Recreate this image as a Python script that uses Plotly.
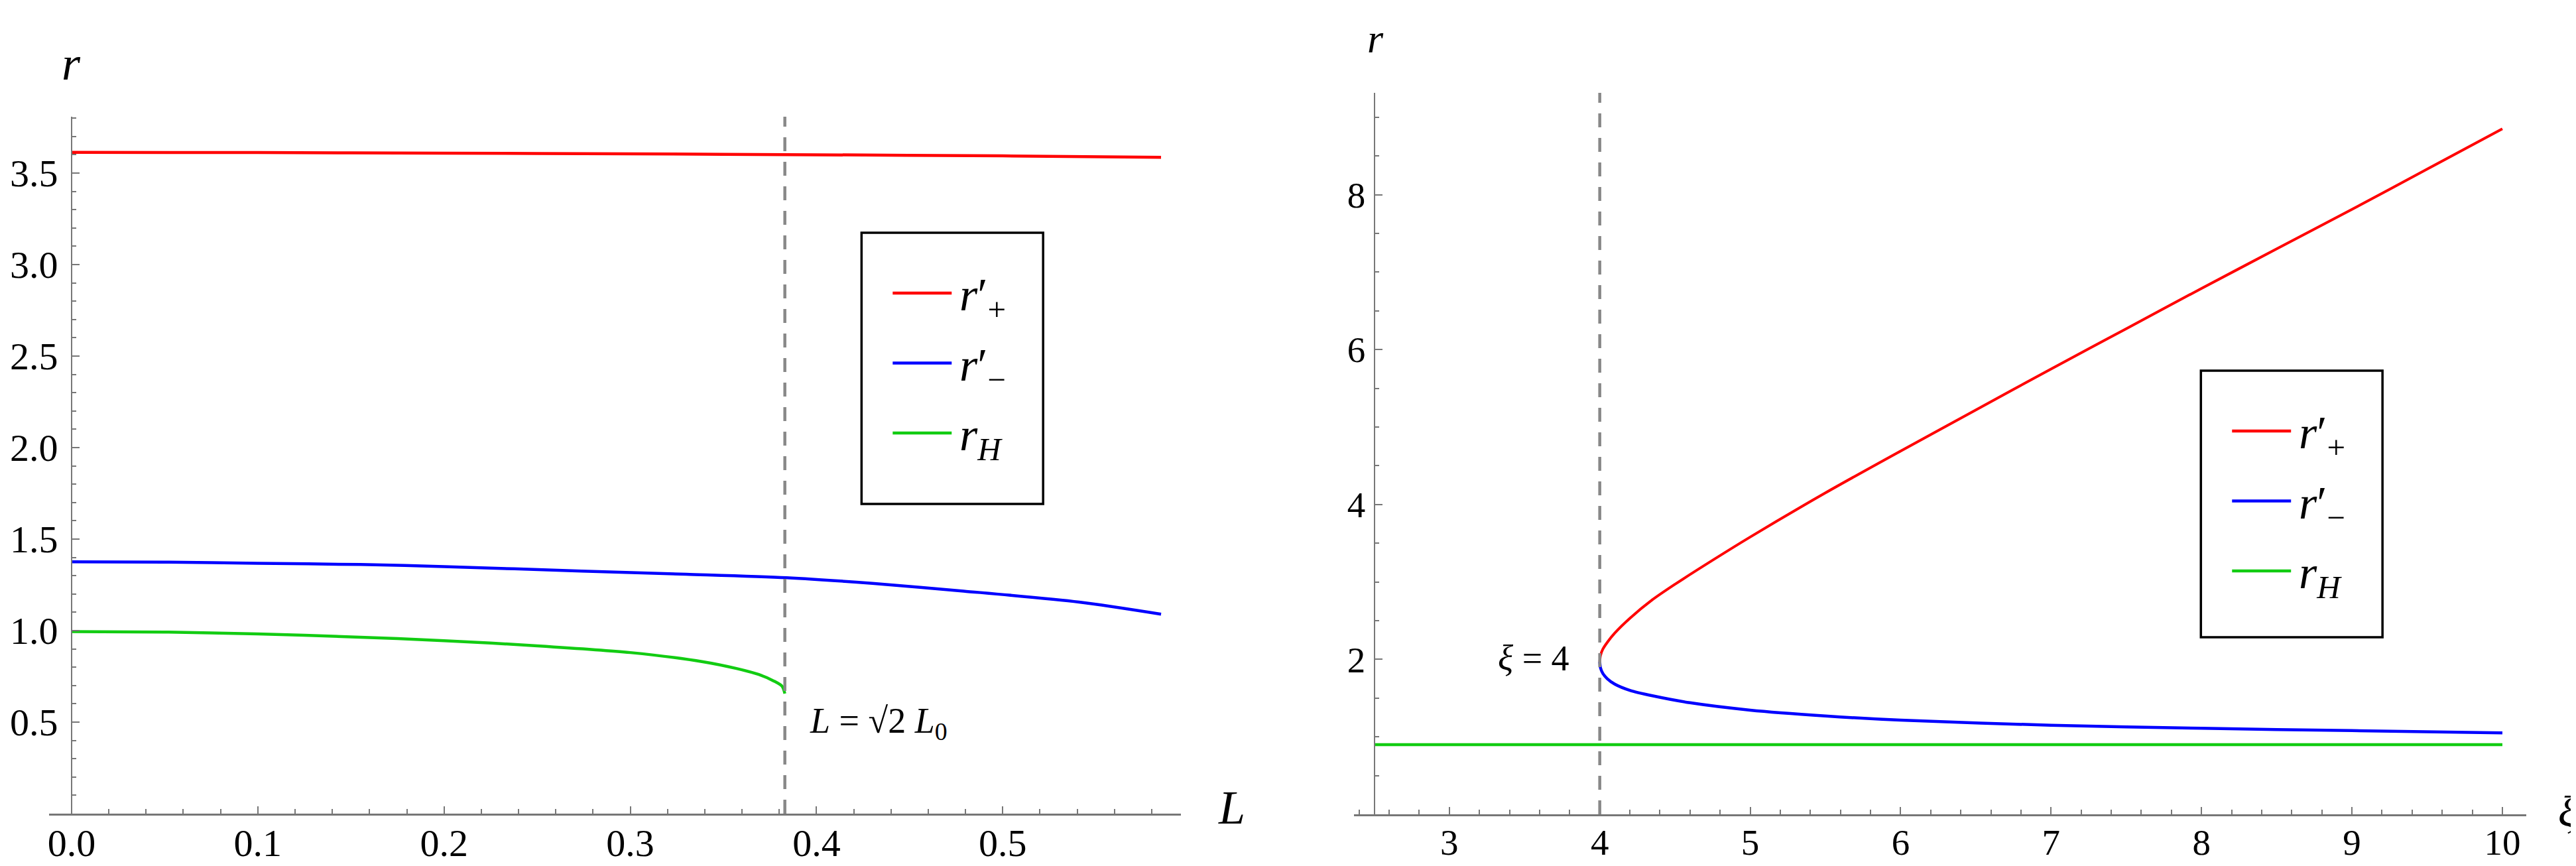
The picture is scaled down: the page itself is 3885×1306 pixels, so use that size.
import plotly.graph_objects as go

W, H = 3885, 1306

# ---- left panel: r vs L ----
L_RPLUS = [0.0, 0.1, 0.2, 0.3, 0.4, 0.5, 0.585]
RPLUS_L = [3.613, 3.612, 3.609, 3.605, 3.600, 3.594, 3.586]

L_RMINUS = [0.0, 0.05, 0.1, 0.155, 0.2, 0.274, 0.33, 0.384, 0.43, 0.479, 0.541, 0.585]
RMINUS_L = [1.376, 1.374, 1.368, 1.361, 1.350, 1.325, 1.308, 1.289, 1.258, 1.216, 1.156, 1.090]

L_RH = [0.0, 0.05, 0.1, 0.15, 0.2, 0.25, 0.3, 0.339, 0.357, 0.369, 0.377, 0.3815, 0.383]
RH_L = [0.995, 0.992, 0.982, 0.966, 0.945, 0.917, 0.880, 0.830, 0.793, 0.760, 0.725, 0.696, 0.656]

L_CRIT = 0.383
L_TICKS = [0.0, 0.1, 0.2, 0.3, 0.4, 0.5]
L_TICKTEXT = ['0.0', '0.1', '0.2', '0.3', '0.4', '0.5']
RL_TICKS = [0.5, 1.0, 1.5, 2.0, 2.5, 3.0, 3.5]
RL_TICKTEXT = ['0.5', '1.0', '1.5', '2.0', '2.5', '3.0', '3.5']

# ---- right panel: r vs xi ----
XI_RPLUS = [4.0, 4.005, 4.02, 4.05, 4.1, 4.2, 4.35, 4.5, 4.75, 5.0, 5.5, 6.0, 6.5,
            7.0, 7.5, 8.0, 8.5, 9.0, 9.5, 10.0]
RPLUS_XI = [1.97, 2.05, 2.13, 2.22, 2.34, 2.53, 2.77, 2.97, 3.28, 3.58, 4.15, 4.69, 5.22,
            5.75, 6.27, 6.79, 7.30, 7.81, 8.33, 8.85]

XI_RMINUS = [4.0, 4.005, 4.02, 4.05, 4.1, 4.2, 4.35, 4.6, 5.0, 5.5, 6.0, 7.0, 8.0, 9.0, 10.0]
RMINUS_XI = [1.97, 1.89, 1.82, 1.75, 1.68, 1.60, 1.53, 1.44, 1.345, 1.27, 1.215, 1.15, 1.11, 1.08, 1.05]

XI_RH = [2.5, 10.0]
RH_XI = [0.90, 0.90]

XI_CRIT = 4.0
XI_TICKS = [3, 4, 5, 6, 7, 8, 9, 10]
XI_TICKTEXT = ['3', '4', '5', '6', '7', '8', '9', '10']
RXI_TICKS = [2, 4, 6, 8]
RXI_TICKTEXT = ['2', '4', '6', '8']

SERIES = ['rplus', 'rminus', 'rH']
COLORS = {'rplus': '#ff0000', 'rminus': '#0000ff', 'rH': '#12cc12'}
LEGEND_TEXT = {'rplus': '<i>r</i>′<sub>+</sub>',
               'rminus': '<i>r</i>′<sub>−</sub>',
               'rH': '<i>r</i><sub><i>H</i></sub>'}

SERIF = 'Liberation Serif'
AXIS_GRAY = '#777777'


def px(x):
    return x / W


def py(y):
    return 1 - y / H


fig = go.Figure()

left = {'rplus': (L_RPLUS, RPLUS_L), 'rminus': (L_RMINUS, RMINUS_L), 'rH': (L_RH, RH_L)}
right = {'rplus': (XI_RPLUS, RPLUS_XI), 'rminus': (XI_RMINUS, RMINUS_XI), 'rH': (XI_RH, RH_XI)}

for key in ['rH', 'rminus', 'rplus']:
    xs, ys = left[key]
    fig.add_trace(go.Scatter(x=xs, y=ys, mode='lines', xaxis='x', yaxis='y',
                             line=dict(color=COLORS[key], width=4.5, shape='spline', smoothing=0.8),
                             showlegend=False, hoverinfo='skip'))
for key in ['rH', 'rminus', 'rplus']:
    xs, ys = right[key]
    fig.add_trace(go.Scatter(x=xs, y=ys, mode='lines', xaxis='x2', yaxis='y2',
                             line=dict(color=COLORS[key], width=4.5 if key != 'rplus' else 4,
                                       shape='spline', smoothing=0.8),
                             showlegend=False, hoverinfo='skip'))

# critical values (dashed)
YL_MAX = 3.808
YR_MAX = 9.315
dash_style = dict(color='#888888', width=4.5, dash='21px,16px')
fig.add_shape(type='line', xref='x', yref='y', x0=L_CRIT, x1=L_CRIT, y0=0, y1=YL_MAX, line=dash_style)
fig.add_shape(type='line', xref='x2', yref='y2', x0=XI_CRIT, x1=XI_CRIT, y0=0, y1=YR_MAX, line=dash_style)

tick_font_l = dict(family=SERIF, size=58, color='black')
tick_font_r = dict(family=SERIF, size=55, color='black')

common_x = dict(showgrid=False, zeroline=False, showline=True, linecolor=AXIS_GRAY, linewidth=2.5,
                ticks='inside', ticklen=11, tickwidth=2, tickcolor=AXIS_GRAY, tickmode='array',
                ticklabelstandoff=-8)
common_y = dict(showgrid=False, zeroline=False, showline=True, linecolor=AXIS_GRAY, linewidth=1.6,
                ticks='inside', ticklen=11, tickwidth=2, tickcolor=AXIS_GRAY, tickmode='array',
                anchor='free')

fig.update_layout(
    width=W, height=H,
    margin=dict(l=0, r=0, t=0, b=0),
    paper_bgcolor='white', plot_bgcolor='rgba(0,0,0,0)',
    xaxis=dict(domain=[px(64), px(1772)], range=[-0.0121, 0.5957], anchor='y',
               tickvals=L_TICKS, ticktext=L_TICKTEXT, tickfont=tick_font_l,
               minor=dict(tick0=0, dtick=0.02, ticks='inside', ticklen=7, tickwidth=1.5, tickcolor=AXIS_GRAY),
               **common_x),
    yaxis=dict(domain=[py(1219), py(168)], range=[0, YL_MAX], position=px(98),
               tickvals=RL_TICKS, ticktext=RL_TICKTEXT, tickfont=tick_font_l, ticklabelstandoff=8,
               minor=dict(tick0=0, dtick=0.1, ticks='inside', ticklen=6, tickwidth=1.5, tickcolor=AXIS_GRAY),
               **common_y),
    xaxis2=dict(domain=[px(2033), px(3802)], range=[2.366, 10.159], anchor='y2',
                tickvals=XI_TICKS, ticktext=XI_TICKTEXT, tickfont=tick_font_r,
                minor=dict(tick0=0, dtick=0.2, ticks='inside', ticklen=7, tickwidth=1.5, tickcolor=AXIS_GRAY),
                **common_x),
    yaxis2=dict(domain=[py(1220), py(132)], range=[0, YR_MAX], position=px(2064),
                tickvals=RXI_TICKS, ticktext=RXI_TICKTEXT, tickfont=tick_font_r, ticklabelstandoff=2,
                minor=dict(tick0=0, dtick=0.5, ticks='inside', ticklen=6, tickwidth=1.5, tickcolor=AXIS_GRAY),
                **common_y),
)

annotations = []


def text_at(x, y, text, size, xanchor='center'):
    annotations.append(dict(xref='paper', yref='paper', x=px(x), y=py(y), text=text,
                            showarrow=False, xanchor=xanchor, yanchor='middle',
                            font=dict(family=SERIF, size=size, color='black')))


# axis labels
text_at(98, 88, '<i>r</i>', 72)
text_at(2066, 50, '<i>r</i>', 62)
text_at(1848, 1210, '<i>L</i>', 72)
text_at(3864, 1215, '<i>ξ</i>', 66)

# critical value labels
text_at(1210, 1082, '<i>L</i> = √2 <i>L</i><sub>0</sub>', 54, xanchor='left')
text_at(2360, 985, '<i>ξ</i> = 4', 54, xanchor='right')


# legends (boxed, Mathematica style)
def add_legend(x0, y0, height):
    fig.add_shape(type='rect', xref='paper', yref='paper',
                  x0=px(x0), x1=px(x0 + 274), y0=py(y0), y1=py(y0 + height),
                  line=dict(color='black', width=3.5), fillcolor='white', layer='above')
    for i, key in enumerate(SERIES):
        yl = y0 + 91 + 105.5 * i
        fig.add_shape(type='line', xref='paper', yref='paper',
                      x0=px(x0 + 47), x1=px(x0 + 136), y0=py(yl), y1=py(yl),
                      line=dict(color=COLORS[key], width=4.5), layer='above')
        text_at(x0 + 146, yl + 8, LEGEND_TEXT[key], 70, xanchor='left')


add_legend(1290, 343, 409)
add_legend(3311, 551, 402)

fig.update_layout(annotations=annotations)

fig.write_html("out.html")
